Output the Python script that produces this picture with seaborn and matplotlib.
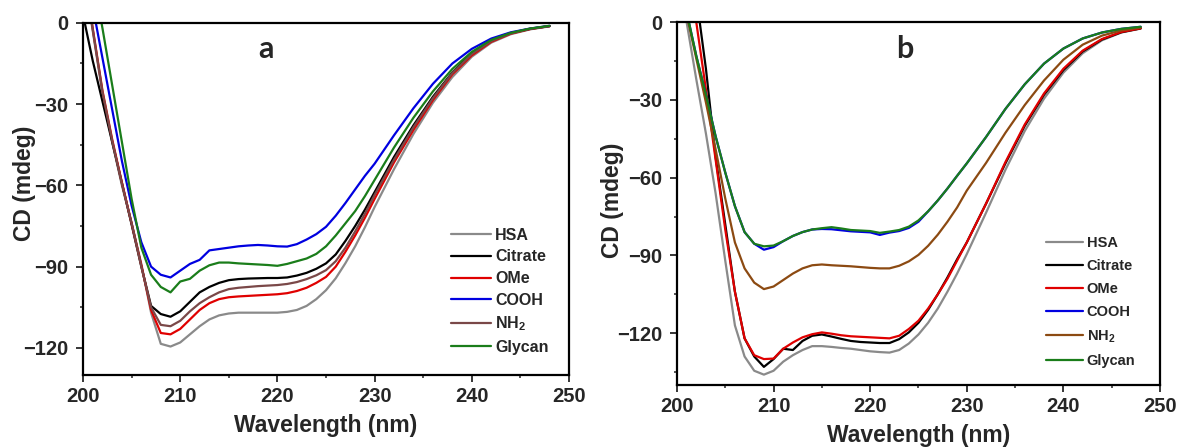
import matplotlib
matplotlib.use('Agg')
import matplotlib.pyplot as plt
from matplotlib.ticker import MultipleLocator
import pandas as pd
import seaborn as sns

sns.set_theme(style='ticks')
plt.rcParams['font.family'] = ['Liberation Sans', 'DejaVu Sans']
plt.rcParams['mathtext.fontset'] = 'custom'
plt.rcParams['mathtext.rm'] = 'Liberation Sans'
plt.rcParams['mathtext.bf'] = 'Liberation Sans:bold'
plt.rcParams['mathtext.default'] = 'bf'

wavelength = [200, 201, 202, 203, 204, 205, 206, 207, 208, 209, 210, 211, 212, 213, 214,
              215, 216, 217, 218, 219, 220, 221, 222, 223, 224, 225, 226, 227, 228, 229,
              230, 232, 234, 236, 238, 240, 242, 244, 246, 248]
samples = ['HSA', 'Citrate', 'OMe', 'COOH', 'NH2', 'Glycan']
legend_labels = ['HSA', 'Citrate', 'OMe', 'COOH', 'NH$_2$', 'Glycan']

# panel a
hsa_a = [20, -3, -26, -44, -60, -74, -89, -107, -118.5, -119.5, -118, -115, -112, -109.5, -108,
         -107.3, -107, -107, -107, -107, -107, -106.7, -106, -104.5, -102, -98.7, -94.3, -88.7, -82.5, -75.5,
         -68, -54, -41, -29.5, -20, -12.5, -7.3, -4.2, -2.4, -1.3]
citrate_a = [3, -14, -29, -44, -59, -74.5, -90, -104.5, -107.5, -108.5, -106.5, -103, -99.5, -97.5, -96,
             -95, -94.6, -94.4, -94.3, -94.2, -94.2, -94, -93.3, -92.3, -90.8, -88.8, -85.5, -80.5, -75, -69,
             -62.5, -49.5, -37.8, -27.3, -18.3, -11.3, -6.6, -3.8, -2.2, -1.2]
ome_a = [22, -2, -25, -43, -59, -74, -89.5, -106, -114.5, -115, -113, -109.5, -106, -103.5, -102,
         -101.3, -101, -100.8, -100.6, -100.4, -100.2, -99.8, -99, -97.8, -96, -93.8, -90, -84.5, -78.5, -72,
         -65, -51.5, -39.5, -28.5, -19, -12, -7, -4, -2.3, -1.2]
cooh_a = [25, 6, -13, -32, -51, -67.5, -81, -90, -93, -94, -91.5, -89, -87.5, -84, -83.5,
          -83, -82.5, -82.2, -82, -82.2, -82.5, -82.6, -81.7, -80, -78, -75.3, -71.2, -66.5, -61.5, -56.5,
          -52, -41.5, -31.5, -22.5, -15, -9.6, -5.8, -3.5, -2.1, -1.1]
nh2_a = [21, -2.5, -25.5, -43.5, -59.5, -74, -90, -105, -111.5, -112, -110, -106.5, -103.5, -101.3, -99.5,
         -98.3, -97.8, -97.5, -97.2, -97, -96.8, -96.4, -95.7, -94.6, -93.2, -91.3, -88, -83, -77, -70.5,
         -63.5, -50.5, -38.5, -27.8, -18.5, -11.5, -6.7, -3.9, -2.2, -1.2]
glycan_a = [38, 18, -2, -23, -44, -65, -83, -93, -97.5, -99.5, -95.5, -94.5, -91.5, -89.5, -88.5,
            -88.5, -88.8, -89, -89.2, -89.4, -89.7, -89, -88, -87, -85.3, -82.5, -78.5, -74, -69.5, -64,
            -58, -46, -35, -25.3, -17, -10.7, -6.3, -3.7, -2.1, -1.1]

# panel b
hsa_b = [18, 0, -22, -43, -66, -92, -117, -129, -134.5, -136, -134.5, -131, -128.5, -126.5, -125,
         -125, -125.3, -125.7, -126, -126.5, -127, -127.3, -127.5, -126.5, -124, -120.5, -116, -110.5, -104, -97,
         -89.5, -73.5, -57, -42, -29.5, -19.5, -12, -7, -4, -2.5]
citrate_b = [45, 25, 10, -18, -52, -78, -104, -122, -129, -133, -130, -126, -126.5, -123, -121,
             -120.5, -121.3, -122.2, -123, -123.4, -123.6, -123.8, -123.8, -122.3, -119.7, -116, -111, -105, -98.5, -91.5,
             -85, -70, -54.5, -40, -28, -18.5, -11.3, -6.7, -3.9, -2.4]
ome_b = [40, 25, 0, -26, -53, -80, -104, -122, -128.5, -130, -129.8, -126, -123.6, -121.6, -120.4,
         -119.7, -120.2, -120.8, -121.2, -121.4, -121.6, -121.8, -122, -121, -118.4, -115.2, -110.5, -105, -99, -92,
         -85, -70, -54, -39.5, -27.5, -18, -11, -6.5, -3.8, -2.4]
cooh_b = [22, 4, -13, -28, -44, -58, -71, -81, -85.5, -87.8, -86.8, -84.5, -82.5, -81, -80,
          -79.8, -79.9, -80.3, -80.7, -80.9, -81.1, -82.1, -81.2, -80.6, -79.4, -77, -73, -68.8, -64.2, -59.3,
          -54.5, -44.3, -33.5, -24, -16, -10.2, -6.3, -4, -2.6, -1.8]
nh2_b = [20, 3, -14, -31, -49, -68, -85, -95, -100.5, -103, -102, -99.5, -97, -95, -93.8,
         -93.5, -93.8, -94, -94.2, -94.5, -94.8, -95, -95, -94, -92.3, -89.8, -86.3, -82, -77, -71.5,
         -65, -54.3, -42.7, -32, -22.5, -14.5, -8.7, -5.2, -3.2, -2.1]
glycan_b = [22, 4, -13, -28, -44, -58, -71, -81, -85.5, -86.5, -86.2, -84.5, -82.5, -81, -80,
            -79.5, -79.1, -79.6, -80.2, -80.4, -80.6, -81.3, -80.8, -80.2, -78.9, -76.5, -73, -68.8, -64.2, -59.3,
            -54.5, -44.3, -33.5, -24, -16, -10.2, -6.3, -4, -2.6, -1.8]

colors_a = {'HSA': '#8a8a8a', 'Citrate': '#000000', 'OMe': '#e00000',
            'COOH': '#0000e0', 'NH2': '#7a4848', 'Glycan': '#1a7d1a'}
colors_b = {'HSA': '#8a8a8a', 'Citrate': '#000000', 'OMe': '#e00000',
            'COOH': '#0000e0', 'NH2': '#8c4a12', 'Glycan': '#1a7d1a'}


def long_df(series):
    rows = []
    for name, vals in zip(samples, series):
        rows.append(pd.DataFrame({'Wavelength': wavelength, 'CD': vals, 'Sample': name}))
    return pd.concat(rows, ignore_index=True)


df_a = long_df([hsa_a, citrate_a, ome_a, cooh_a, nh2_a, glycan_a])
df_b = long_df([hsa_b, citrate_b, ome_b, cooh_b, nh2_b, glycan_b])

fig = plt.figure(figsize=(11.81, 4.48), dpi=100)
ax1 = fig.add_axes([0.0703, 0.163, 0.4115, 0.786])
ax2 = fig.add_axes([0.5732, 0.1406, 0.409, 0.810])


def style_axis(ax, df, colors, ymin, letter, lx, ly, leg_xy, leg_fs, leg_pad, ylab_xy, xlab_pad):
    sns.lineplot(data=df, x='Wavelength', y='CD', hue='Sample', hue_order=samples,
                 palette=colors, linewidth=1.6, legend=False, ax=ax, sort=False)
    ax.set_xlim(200, 250)
    ax.set_ylim(ymin, 0)
    ax.xaxis.set_major_locator(MultipleLocator(10))
    ax.xaxis.set_minor_locator(MultipleLocator(5))
    ax.yaxis.set_major_locator(MultipleLocator(30))
    ax.yaxis.set_minor_locator(MultipleLocator(15))
    ax.tick_params(which='major', direction='out', length=5, width=1.3, labelsize=14.5)
    ax.tick_params(axis='x', which='major', pad=3.5)
    ax.tick_params(axis='y', which='major', pad=5.5)
    ax.tick_params(which='minor', direction='out', length=2.5, width=1.1)
    for lab in ax.get_xticklabels() + ax.get_yticklabels():
        lab.set_fontweight('bold')
    for sp in ax.spines.values():
        sp.set_linewidth(1.6)
        sp.set_color('black')
    ax.set_xlabel('Wavelength (nm)', fontsize=16.5, fontweight='bold', labelpad=xlab_pad)
    ax.set_ylabel('CD (mdeg)', fontsize=16.5, fontweight='bold')
    ax.yaxis.set_label_coords(*ylab_xy)
    ax.text(lx, ly, letter, fontsize=22, fontweight='bold', family=['Lato', 'DejaVu Sans'],
            ha='center', va='baseline')
    handles = ax.get_lines()[:6]
    ax.legend(handles, legend_labels, loc='upper left', bbox_to_anchor=leg_xy,
              frameon=False, borderpad=0, borderaxespad=0, handlelength=2.5,
              handletextpad=0.27, labelspacing=leg_pad,
              prop={'weight': 'bold', 'size': leg_fs})


style_axis(ax1, df_a, colors_a, -130, 'a', 218.8, -12.8, (0.757, 0.418), 11.5, 0.42,
           (-0.097, 0.543), 6)
style_axis(ax2, df_b, colors_b, -140, 'b', 223.6, -13.7, (0.765, 0.41), 10.5, 0.62,
           (-0.11, 0.51), 6)

fig.savefig('out.png', dpi=100)
